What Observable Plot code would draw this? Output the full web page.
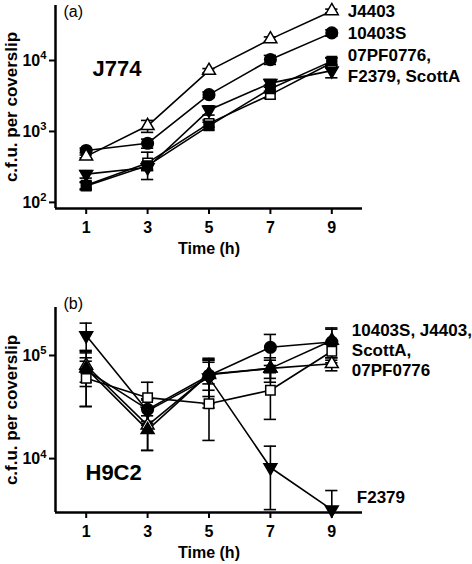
<!DOCTYPE html>
<html>
<head>
<meta charset="utf-8">
<script src="https://cdn.jsdelivr.net/npm/d3@7"></script>
<script src="https://cdn.jsdelivr.net/npm/@observablehq/plot@0.6"></script>
<style>
  html, body { margin: 0; padding: 0; background: white; }
  #wrap { position: relative; width: 472px; height: 564px; font-family: "Liberation Sans", Arial, sans-serif; }
  #wrap > div { position: absolute; left: 0; }
</style>
</head>
<body>
<div id="wrap"><div id="pa" style="top:0"></div><div id="pb" style="top:260px"></div></div>
<script>
// ---------- data ----------
const times = [1, 3, 5, 7, 9];
const strains = ["10403S", "J4403", "F2379", "ScottA", "07PF0776"];

// J774 macrophages (panel a): mean c.f.u. per coverslip, one row per strain
const j774Means = [
  [540, 680, 3300, 10300, 24500],
  [445, 1200, 7200, 20000, 50000],
  [250, 310, 2000, 4800, 7200],
  [175, 360, 1300, 3300, 9300],
  [170, 330, 1200, 4000, 9800]
];
const j774Sd = [
  [40, 100, 300, 1500, 2500],
  [20, 230, 500, 1500, 3000],
  [30, 30, 300, 600, 1500],
  [20, 150, 150, 400, 1500],
  [20, 40, 150, 500, 1200]
];

// H9C2 cells (panel b)
const h9c2Means = [
  [72000, 30000, 64000, 120000, 135000],
  [80000, 21000, 65000, 75000, 83000],
  [156000, 29000, 61000, 8200, 3200],
  [60000, 39000, 34000, 46000, 110000],
  [75000, 19000, 66000, 75000, 140000]
];
const h9c2Sd = [
  [40000, 8000, 30000, 40000, 45000],
  [30000, 9000, 25000, 20000, 12000],
  [50000, 8000, 30000, 5000, 1700],
  [28000, 16000, 19000, 22000, 25000],
  [20000, 7000, 20000, 15000, 45000]
];

const xDomain = [0, 10];
const yDomainA = [82, 59600];
const yDomainB = [3000, 292000];
const yTicksA = [100, 1000, 10000];
const yTicksB = [10000, 100000];

const labelsA = [
  {text: "J4403", strains: ["J4403"]},
  {text: "10403S", strains: ["10403S"]},
  {text: "07PF0776,\nF2379, ScottA", strains: ["07PF0776", "F2379", "ScottA"]}
];
const labelsB = [
  {text: "10403S, J4403,\nScottA,\n07PF0776", strains: ["10403S", "J4403", "ScottA", "07PF0776"]},
  {text: "F2379", strains: ["F2379"], dx: 25, dy: -13}
];

// ---------- styles ----------
const symA = {"10403S": ["circle", 0, "black", 5.8], "J4403": ["triangle", 0, "white", 4.8], "F2379": ["triangle", 180, "black", 4.8], "ScottA": ["square", 0, "white", 5.3], "07PF0776": ["square", 0, "black", 5.3]};
const symB = {"10403S": ["circle", 0, "black", 5.8], "J4403": ["triangle", 0, "white", 4.8], "F2379": ["triangle", 180, "black", 4.8], "ScottA": ["square", 0, "white", 5.3], "07PF0776": ["triangle", 0, "black", 4.8]};
const FONT = "Liberation Sans, Arial, sans-serif";

function tidy(means, sds) {
  const rows = [];
  strains.forEach((s, i) => times.forEach((t, j) => {
    rows.push({strain: s, time: t, value: means[i][j], lo: means[i][j] - sds[i][j], hi: means[i][j] + sds[i][j]});
  }));
  return rows;
}

function panel(cfg) {
  const rows = tidy(cfg.means, cfg.sds);
  const cap = 0.2;
  const tLast = times[times.length - 1];
  const last = s => rows.find(r => r.strain === s && r.time === tLast).value;
  const marks = [
    // error bars
    Plot.ruleX(rows, {x: "time", y1: d => Math.max(d.lo, cfg.yDomain[0]), y2: "hi", stroke: "black", strokeWidth: 1.6, clip: true}),
    Plot.ruleY(rows, {y: "hi", x1: d => d.time - cap, x2: d => d.time + cap, stroke: "black", strokeWidth: 1.6}),
    Plot.ruleY(rows.filter(d => d.lo > cfg.yDomain[0]), {y: "lo", x1: d => d.time - cap, x2: d => d.time + cap, stroke: "black", strokeWidth: 1.6}),
    // lines
    Plot.line(rows, {x: "time", y: "value", z: "strain", stroke: "black", strokeWidth: 1.6})
  ];
  strains.forEach(s => {
    const [symbol, rot, fill, r] = cfg.sym[s];
    marks.push(Plot.dot(rows.filter(d => d.strain === s), {x: "time", y: "value", symbol, rotate: rot, fill, stroke: "black", strokeWidth: 1.5, r}));
  });
  cfg.labels.forEach(l => {
    const row = {text: l.text, time: tLast, value: Math.exp(d3.mean(l.strains, s => Math.log(last(s))))};
    marks.push(Plot.text([row], {x: "time", y: "value", text: "text", dx: l.dx ?? cfg.labelDx, dy: l.dy ?? 0,
      textAnchor: "start", lineAnchor: "middle", lineHeight: 1.2, fontWeight: "bold", fontSize: 17}));
  });
  marks.push(
    Plot.ruleX([xDomain[0]], {stroke: "black", strokeWidth: 2.5}),
    Plot.ruleY([cfg.yDomain[0]], {stroke: "black", strokeWidth: 2.5}),
    Plot.axisX({ticks: times, tickSize: 6, tickPadding: 7, strokeWidth: 2, fontWeight: "bold", fontSize: 16, label: null}),
    Plot.axisY({ticks: cfg.yTicks, tickSize: 6, tickPadding: 3, strokeWidth: 2, fontWeight: "bold", fontSize: 16, label: null, tickFormat: d => String(Math.round(Math.log10(d)))}),
    Plot.text([cfg.tag], {frameAnchor: "top-left", dx: 8, dy: cfg.tagDy, textAnchor: "start", lineAnchor: "top", fontSize: 16}),
    Plot.text([cfg.cell], {frameAnchor: "top-left", dx: cfg.cellDx, dy: cfg.cellDy, textAnchor: "start", lineAnchor: "middle", fontSize: 22, fontWeight: "bold"}),
    Plot.text(["c.f.u. per coverslip"], {frameAnchor: "left", dx: -44, rotate: -90, textAnchor: "middle", fontWeight: "bold", fontSize: 17, lineAnchor: "middle"}),
    Plot.text(["Time (h)"], {frameAnchor: "bottom", dy: 40, fontWeight: "bold", fontSize: 16, lineAnchor: "middle"})
  );
  const svg = Plot.plot({
    width: 472, height: cfg.height,
    marginLeft: 55, marginRight: 110, marginTop: cfg.marginTop, marginBottom: 52,
    x: {domain: xDomain},
    y: {type: "log", domain: cfg.yDomain},
    style: {fontFamily: FONT, fontSize: "16px", color: "black", background: "white", overflow: "visible"},
    marks
  });
  // superscript exponents on y tick labels
  d3.select(svg).selectAll('g[aria-label="y-axis tick label"] text').each(function() {
    const e = this.textContent;
    const sel = d3.select(this);
    sel.text("10");
    sel.append("tspan").attr("dy", "-0.55em").attr("font-size", "0.7em").text(e);
  });
  return svg;
}

const svgA = panel({means: j774Means, sds: j774Sd, yDomain: yDomainA, yTicks: yTicksA, sym: symA, labels: labelsA,
  labelDx: 16, height: 260, marginTop: 5, tag: "(a)", tagDy: 0, cell: "J774", cellDx: 37, cellDy: 63});
const svgB = panel({means: h9c2Means, sds: h9c2Sd, yDomain: yDomainB, yTicks: yTicksB, sym: symB, labels: labelsB,
  labelDx: 20, height: 304, marginTop: 47, tag: "(b)", tagDy: -10, cell: "H9C2", cellDx: 30, cellDy: 165});
document.getElementById("pa").appendChild(svgA);
document.getElementById("pb").appendChild(svgB);
</script>
</body>
</html>
